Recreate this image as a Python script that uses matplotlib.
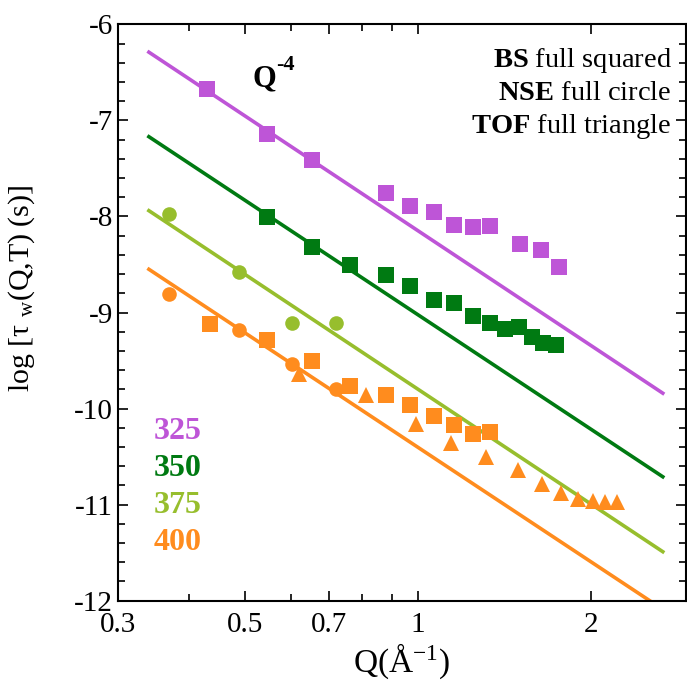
import matplotlib
matplotlib.use("Agg")
import matplotlib.pyplot as plt
from matplotlib.ticker import FixedLocator, FixedFormatter, MultipleLocator

plt.rcParams['font.family'] = ['Liberation Serif', 'DejaVu Serif']
plt.rcParams['mathtext.fontset'] = 'custom'
plt.rcParams['mathtext.rm'] = 'Liberation Serif'
plt.rcParams['mathtext.it'] = 'Liberation Serif:italic'
plt.rcParams['mathtext.bf'] = 'Liberation Serif:bold'
plt.rcParams['axes.unicode_minus'] = False

# colours per temperature
c325 = '#BE55D7'
c350 = '#007A12'
c375 = '#97BE2D'
c400 = '#FF8C1E'

# 325 K, BS
q_bs_325 = [0.43, 0.545, 0.653, 0.88, 0.968, 1.065, 1.158, 1.248, 1.335, 1.503, 1.64, 1.763]
t_bs_325 = [-6.67, -7.14, -7.41, -7.76, -7.89, -7.95, -8.09, -8.11, -8.10, -8.29, -8.35, -8.53]

# 350 K, BS
q_bs_350 = [0.545, 0.653, 0.761, 0.88, 0.968, 1.065, 1.158, 1.248, 1.335, 1.418, 1.499, 1.579, 1.652, 1.74]
t_bs_350 = [-8.01, -8.32, -8.51, -8.61, -8.72, -8.87, -8.90, -9.04, -9.11, -9.17, -9.15, -9.25, -9.32, -9.34]

# 375 K, NSE
q_nse_375 = [0.369, 0.488, 0.604, 0.719]
t_nse_375 = [-7.97, -8.58, -9.11, -9.11]

# 400 K, NSE / BS / TOF
q_nse_400 = [0.369, 0.488, 0.604, 0.719]
t_nse_400 = [-8.81, -9.18, -9.54, -9.80]
q_bs_400 = [0.434, 0.545, 0.653, 0.761, 0.88, 0.968, 1.065, 1.158, 1.248, 1.335]
t_bs_400 = [-9.12, -9.29, -9.50, -9.76, -9.86, -9.96, -10.08, -10.17, -10.26, -10.24]
q_tof_400 = [0.621, 0.813, 0.992, 1.144, 1.314, 1.495, 1.645, 1.773, 1.90, 2.017, 2.117, 2.221]
t_tof_400 = [-9.64, -9.86, -10.16, -10.36, -10.50, -10.64, -10.78, -10.88, -10.94, -10.96, -10.97, -10.97]

# Q^-4 lines (end points)
q_line = [0.34, 2.67]
fit_325 = [-6.29, -9.84]
fit_350 = [-7.17, -10.71]
fit_375 = [-7.94, -11.49]
fit_400 = [-8.55, -12.09]

temps = ['325', '350', '375', '400']
colors = [c325, c350, c375, c400]

fig = plt.figure(figsize=(6.87, 6.83), dpi=100)
ax = fig.add_axes([0.1713, 0.1205, 0.8272, 0.8439])

lw = 2.6
ax.plot(q_line, fit_325, color=c325, lw=lw)
ax.plot(q_line, fit_350, color=c350, lw=lw)
ax.plot(q_line, fit_375, color=c375, lw=lw)
ax.plot(q_line, fit_400, color=c400, lw=lw)

sq = dict(marker='s', ms=12, ls='none', mew=0)
ci = dict(marker='o', ms=10.5, ls='none', mew=0)
tr = dict(marker='^', ms=11, ls='none', mew=0)
ax.plot(q_bs_325, t_bs_325, color=c325, **sq)
ax.plot(q_bs_350, t_bs_350, color=c350, **sq)
ax.plot(q_nse_375, t_nse_375, color=c375, **ci)
ax.plot(q_bs_400, t_bs_400, color=c400, **sq)
ax.plot(q_nse_400, t_nse_400, color=c400, **ci)
ax.plot(q_tof_400, t_tof_400, color=c400, **tr)

ax.set_xscale('log')
ax.set_xlim(0.3, 2.93)
ax.set_ylim(-12, -6)

ax.xaxis.set_major_locator(FixedLocator([0.3, 0.5, 0.7, 1, 2]))
ax.xaxis.set_major_formatter(FixedFormatter(['0.3', '0.5', '0.7', '1', '2']))
ax.xaxis.set_minor_locator(FixedLocator([0.4, 0.6, 0.8, 0.9]))
ax.xaxis.set_minor_formatter(FixedFormatter([]))
ax.yaxis.set_major_locator(MultipleLocator(1))
ax.yaxis.set_minor_locator(MultipleLocator(0.2))

ax.tick_params(which='both', direction='in', top=True, right=True, labelsize=21, width=1.2)
ax.tick_params(which='major', length=7)
ax.tick_params(which='minor', length=5)
ax.tick_params(axis='x', pad=8)
for s in ax.spines.values():
    s.set_linewidth(1.5)

ax.set_xlabel(r'Q($\mathrm{\AA}^{\mathrm{-1}}$)', fontsize=24)
ax.xaxis.set_label_coords(0.5, -0.07)
ax.set_ylabel(r'log [τ $_{\mathrm{w}}$(Q,T) (s)]', fontsize=21.5)
ax.yaxis.set_label_coords(-0.142, 0.541)

# Q^-4 label
ax.text(0.238, 0.905, 'Q', transform=ax.transAxes, fontsize=22, fontweight='bold', ha='left', va='center')
ax.text(0.278, 0.93, '-4', transform=ax.transAxes, fontsize=16, fontweight='bold', ha='left', va='center')

# technique legend
leg_lines = [r'$\mathbf{BS}$ full squared', r'$\mathbf{NSE}$ full circle', r'$\mathbf{TOF}$ full triangle']
for i, t in enumerate(leg_lines):
    ax.text(0.975, 0.937 - 0.057 * i, t, transform=ax.transAxes, fontsize=20.5, ha='right', va='center')

# temperature labels
for i, (t, c) in enumerate(zip(temps, colors)):
    ax.text(0.063, 0.293 - 0.064 * i, t, transform=ax.transAxes, fontsize=23, fontweight='bold',
            color=c, ha='left', va='center')

fig.savefig('out.png', dpi=100)
